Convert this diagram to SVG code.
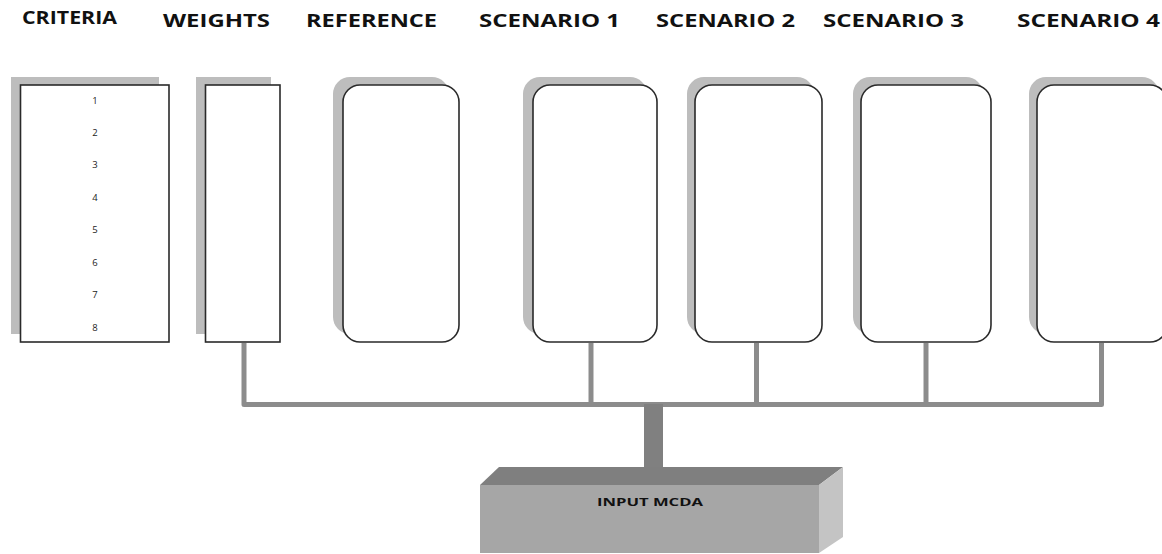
<svg xmlns="http://www.w3.org/2000/svg" width="1162" height="554" viewBox="0 0 1162 554">
<style>
.hdr{font-family:"Open Sans","Liberation Sans",sans-serif;font-weight:700;font-size:17px;fill:#111}
.num{font-family:"Open Sans","Liberation Sans",sans-serif;font-size:9.5px;fill:#222;text-anchor:middle}
.shadow{fill:#bdbdbd}
.box{fill:#fff;stroke:#2a2a2a;stroke-width:1.6}
.conn{fill:none;stroke:#8c8c8c;stroke-width:5;stroke-linejoin:round}
.trunk{fill:#808080}
.lbl{font-family:"Open Sans","Liberation Sans",sans-serif;font-weight:700;font-size:10.5px;fill:#111}
</style>
<rect width="1162" height="554" fill="#fff"/>
<g id="headers">
<text class="hdr" x="22" y="24" font-size="15" textLength="95" lengthAdjust="spacingAndGlyphs">CRITERIA</text>
<text class="hdr" x="163" y="27" textLength="107" lengthAdjust="spacingAndGlyphs">WEIGHTS</text>
<text class="hdr" x="306" y="27" textLength="131" lengthAdjust="spacingAndGlyphs">REFERENCE</text>
<text class="hdr" x="479" y="27" textLength="141" lengthAdjust="spacingAndGlyphs">SCENARIO 1</text>
<text class="hdr" x="656" y="27" textLength="139" lengthAdjust="spacingAndGlyphs">SCENARIO 2</text>
<text class="hdr" x="823" y="27" textLength="141" lengthAdjust="spacingAndGlyphs">SCENARIO 3</text>
<text class="hdr" x="1017" y="27" textLength="143" lengthAdjust="spacingAndGlyphs">SCENARIO 4</text>
</g>
<g id="criteria">
<rect class="shadow" x="11" y="77" width="148" height="257"/>
<rect class="box" x="20.5" y="85" width="148.5" height="257"/>
<text class="num" x="95" y="103.5">1</text>
<text class="num" x="95" y="135.9">2</text>
<text class="num" x="95" y="168.4">3</text>
<text class="num" x="95" y="200.8">4</text>
<text class="num" x="95" y="233.2">5</text>
<text class="num" x="95" y="265.6">6</text>
<text class="num" x="95" y="298">7</text>
<text class="num" x="95" y="330.5">8</text>
</g>
<g id="weights">
<rect class="shadow" x="196" y="77" width="75" height="257"/>
<rect class="box" x="205.5" y="85" width="74.5" height="257"/>
</g>
<g id="reference">
<rect class="shadow" x="333" y="77" width="116" height="257" rx="17"/>
<rect class="box" x="343" y="85" width="116" height="257" rx="17"/>
</g>
<g id="scenario1">
<rect class="shadow" x="523" y="77" width="124" height="257" rx="17"/>
<rect class="box" x="533" y="85" width="124" height="257" rx="17"/>
</g>
<g id="scenario2">
<rect class="shadow" x="687" y="77" width="127" height="257" rx="17"/>
<rect class="box" x="695" y="85" width="127" height="257" rx="17"/>
</g>
<g id="scenario3">
<rect class="shadow" x="853" y="77" width="130" height="257" rx="17"/>
<rect class="box" x="861" y="85" width="130" height="257" rx="17"/>
</g>
<g id="scenario4">
<rect class="shadow" x="1029" y="77" width="130" height="257" rx="17"/>
<rect class="box" x="1037" y="85" width="130" height="257" rx="17"/>
</g>
<g id="connectors">
<path class="conn" d="M244 343 V404.5 H1101.5 V343"/>
<path class="conn" d="M591 343 V404.5"/>
<path class="conn" d="M756.5 343 V404.5"/>
<path class="conn" d="M926 343 V404.5"/>
<rect class="trunk" x="644" y="404" width="19" height="64"/>
</g>
<g id="input-mcda">
<polygon points="480,485 499,467 843,467 819,485" fill="#7f7f7f"/>
<polygon points="819,485 843,467 843,537 819,553" fill="#c4c4c4"/>
<rect x="480" y="485" width="339" height="68" fill="#a6a6a6"/>
<text class="lbl" x="597" y="506" textLength="106" lengthAdjust="spacingAndGlyphs">INPUT MCDA</text>
</g>
</svg>
